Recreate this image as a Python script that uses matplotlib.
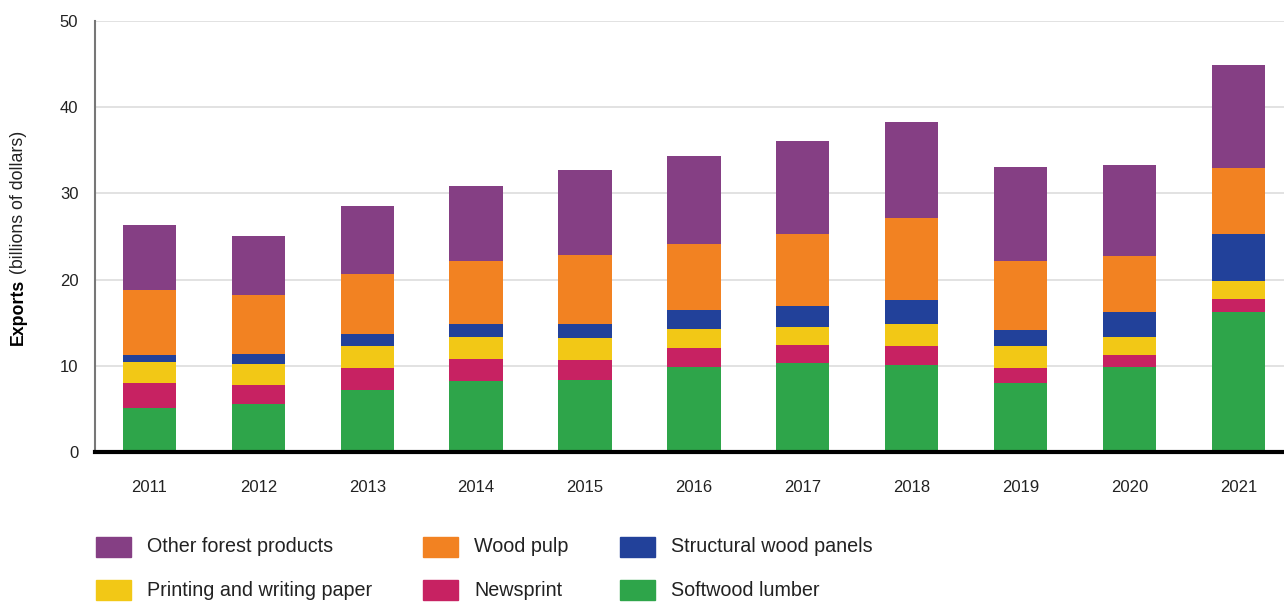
import numpy as np
import matplotlib
matplotlib.use("Agg")
import matplotlib.pyplot as plt
from matplotlib.patches import Rectangle

years = ["2011", "2012", "2013", "2014", "2015", "2016", "2017", "2018", "2019", "2020", "2021"]

# billions of dollars, stacked bottom to top
softwood   = [5.05, 5.6, 7.25, 8.2, 8.4, 9.9, 10.3, 10.15, 7.95, 9.9, 16.3]
newsprint  = [2.9, 2.2, 2.45, 2.65, 2.3, 2.2, 2.1, 2.2, 1.85, 1.3, 1.5]
printing   = [2.55, 2.45, 2.55, 2.45, 2.55, 2.2, 2.1, 2.45, 2.45, 2.1, 2.0]
structural = [0.8, 1.15, 1.5, 1.5, 1.6, 2.2, 2.45, 2.8, 1.95, 2.9, 5.45]
pulp       = [7.55, 6.85, 6.95, 7.4, 8.0, 7.65, 8.35, 9.6, 8.0, 6.6, 7.75]
other      = [7.45, 6.85, 7.8, 8.7, 9.85, 10.2, 10.75, 11.1, 10.9, 10.45, 11.95]

series = [
    ("Softwood lumber", softwood, "#2ea54a"),
    ("Newsprint", newsprint, "#c72262"),
    ("Printing and writing paper", printing, "#f2c816"),
    ("Structural wood panels", structural, "#22419a"),
    ("Wood pulp", pulp, "#f28222"),
    ("Other forest products", other, "#853f84"),
]

plt.rcParams["font.family"] = ["Liberation Sans", "DejaVu Sans"]

fig = plt.figure(figsize=(12.84, 6.03), dpi=100)
ax = fig.add_axes([0.074, 0.2504, 0.926, 0.7146])

x = np.arange(len(years))
bottom = np.zeros(len(years))
colors = {}
for name, vals, col in series:
    ax.bar(x, vals, 0.49, bottom=bottom, color=col, zorder=3)
    bottom += np.array(vals)
    colors[name] = col

ax.set_xlim(-0.5, 10.42)
ax.set_ylim(0, 50)
ax.set_yticks(np.arange(0, 51, 10))
ax.set_xticks(x, years)
ax.grid(axis="y", color="#dddddd", linewidth=1.2, zorder=0)
ax.tick_params(axis="both", length=0, labelsize=12, colors="#222222")
ax.tick_params(axis="x", pad=20)
ax.tick_params(axis="y", pad=12)
for s in ["top", "right"]:
    ax.spines[s].set_visible(False)
ax.spines["left"].set_color("#777777")
ax.spines["left"].set_linewidth(1.5)
ax.spines["bottom"].set_color("black")
ax.spines["bottom"].set_linewidth(3)
ax.spines["bottom"].set_zorder(5)

# y label: bold "Exports" followed by normal text
t1 = fig.text(0.0145, 1 - 345 / 603, "Exports", rotation=90, fontsize=12.8,
              fontweight="bold", ha="center", va="bottom")
ax.annotate(" (billions of dollars)", xy=(0.5, 1), xycoords=t1, rotation=90,
            fontsize=12.8, ha="center", va="bottom", color="#222222")

# legend, laid out as in the original: 3 columns x 2 rows
legend_rows = [
    ["Other forest products", "Wood pulp", "Structural wood panels"],
    ["Printing and writing paper", "Newsprint", "Softwood lumber"],
]
col_x = [96, 423, 620]
row_y = [547, 590]
for r, row in enumerate(legend_rows):
    for c, name in enumerate(row):
        px, py = col_x[c], row_y[r]
        fig.add_artist(Rectangle((px / 1284, 1 - (py + 10) / 603), 35 / 1284, 20 / 603,
                                 transform=fig.transFigure, color=colors[name]))
        fig.text((px + 51) / 1284, 1 - py / 603, name, fontsize=14.2,
                 ha="left", va="center", color="#222222")

fig.savefig("out.png", dpi=100)
